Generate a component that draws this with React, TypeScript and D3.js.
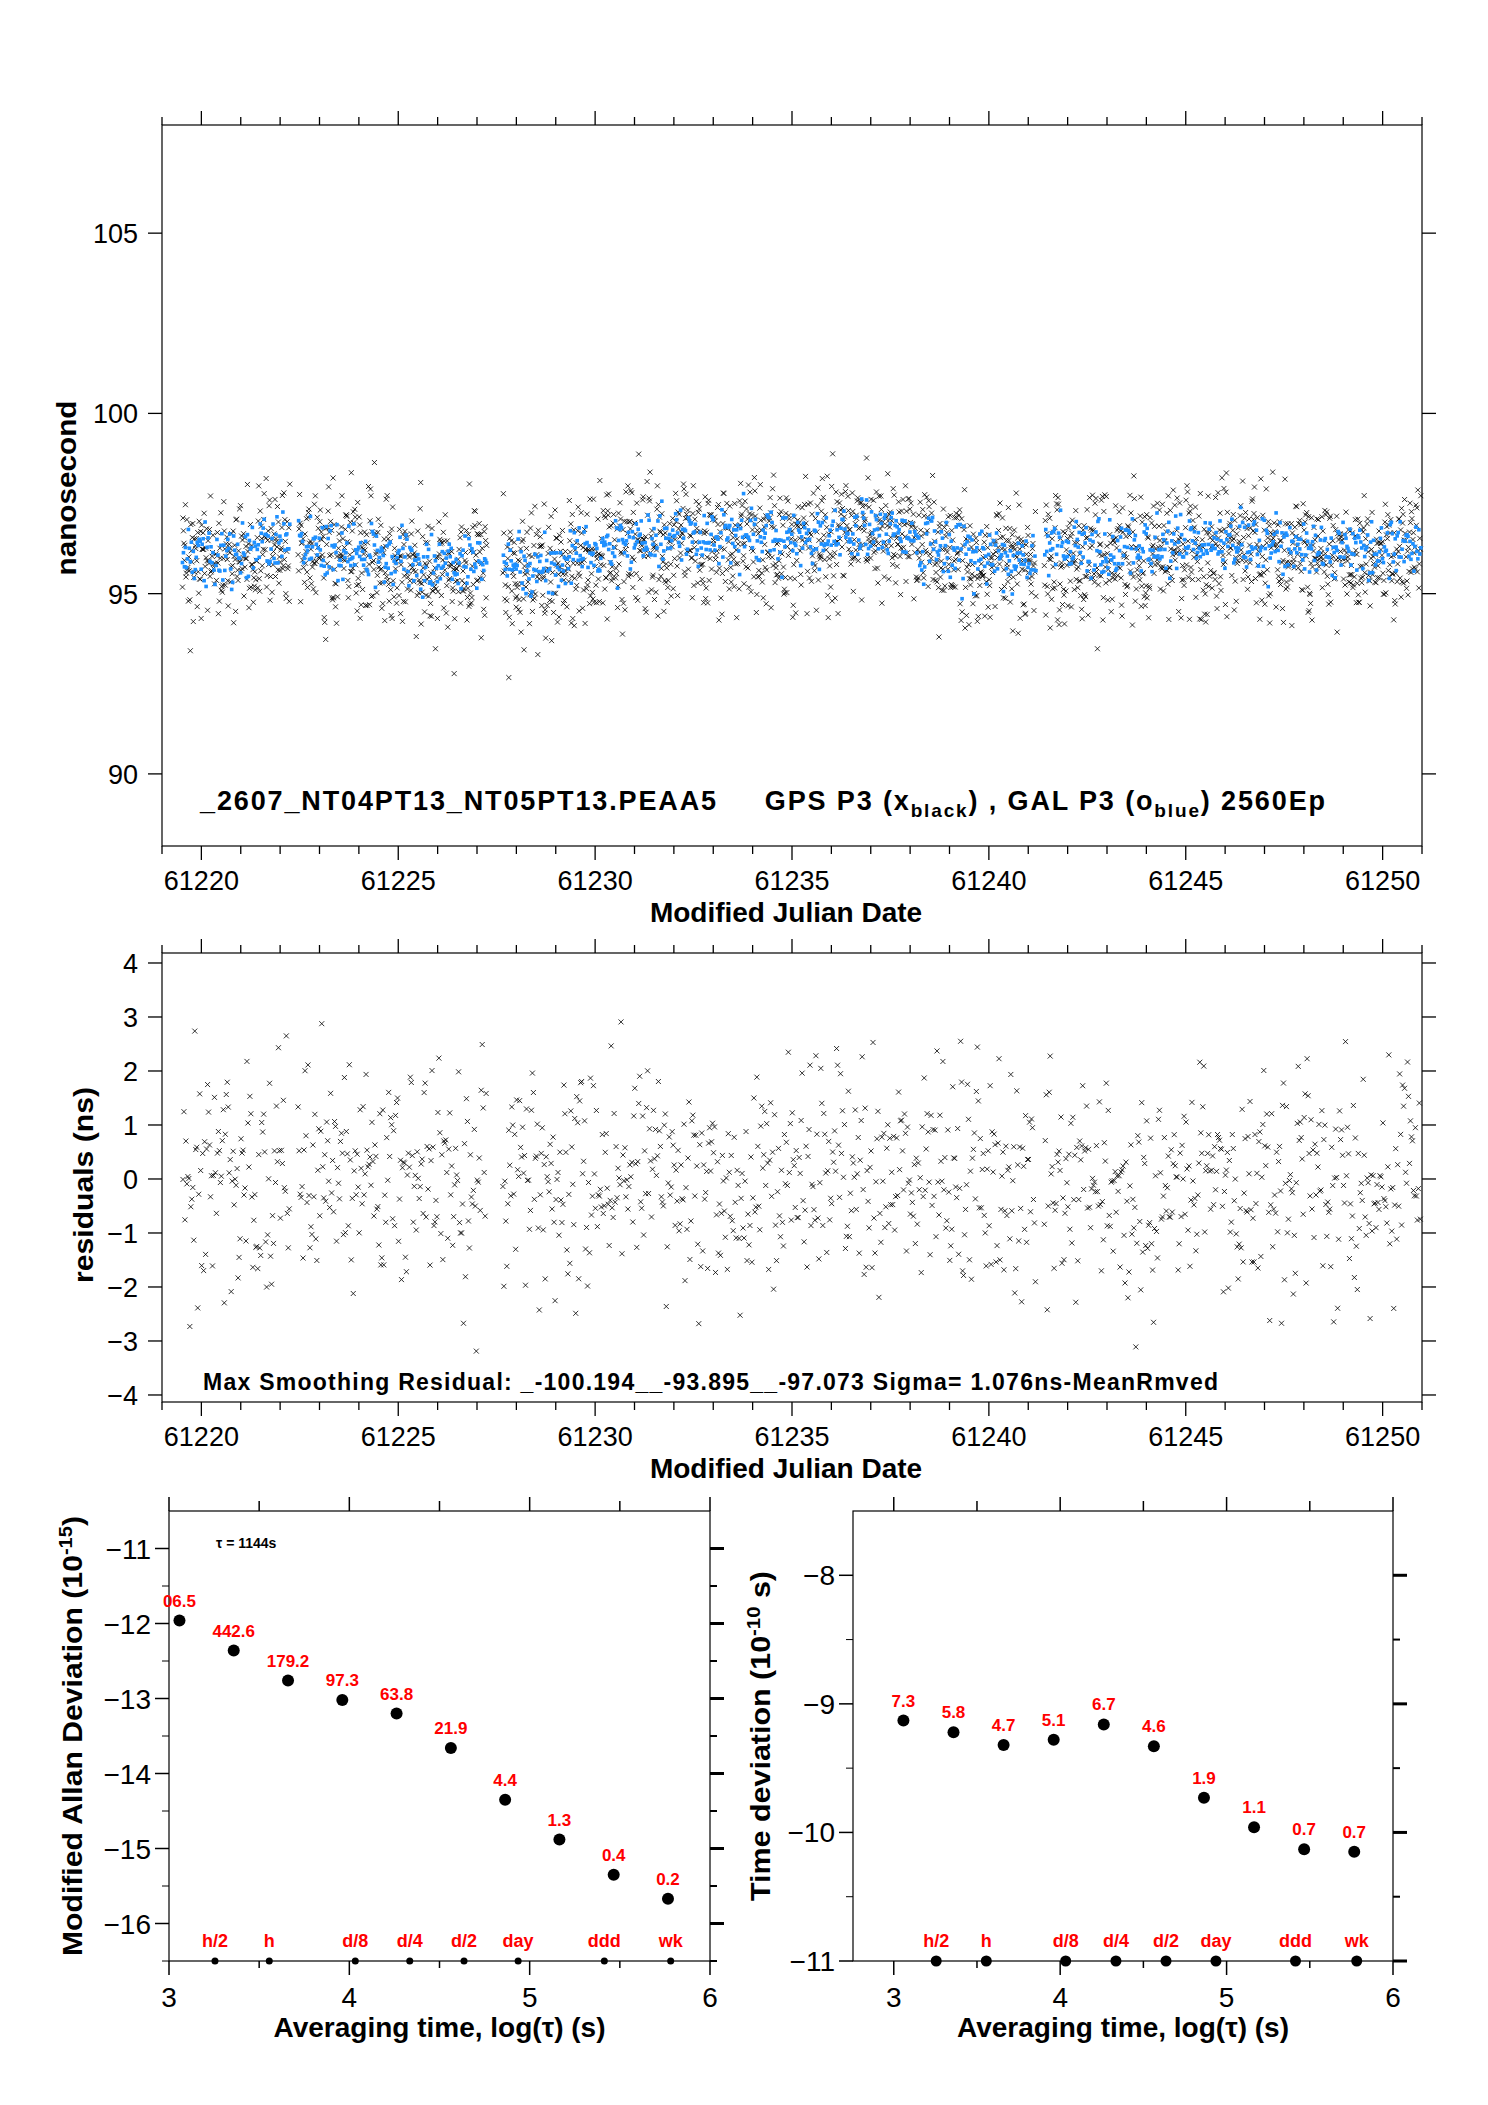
import React from "react";
import * as d3 from "d3";

// --- data ---
const mjdDomain = [61219, 61251];
const gaps = [[61222.25, 61222.45], [61227.25, 61227.65], [61241.2, 61241.4]];
// trend anchors (MJD, mean ns) for blue (GAL) and black (GPS)
const trendMjd = [61219, 61220.5, 61221.5, 61223, 61224.5, 61225.5, 61226.5, 61227.7, 61228.5, 61229.5, 61230.5, 61232, 61233.5, 61235, 61236.5, 61237.5, 61238.5, 61239.5, 61240.5, 61242, 61243.5, 61245, 61246.5, 61248, 61249.5, 61251];
const trendNs = [96.0, 96.0, 96.3, 96.2, 96.0, 95.6, 95.7, 95.8, 95.5, 95.9, 96.3, 96.5, 96.5, 96.4, 96.6, 96.7, 96.2, 96.0, 95.9, 96.2, 96.1, 96.2, 96.3, 96.2, 96.0, 96.3];
const residualSigma = 1.076;

const logTau = [3.058, 3.359, 3.66, 3.961, 4.262, 4.563, 4.864, 5.165, 5.466, 5.767];
const madev = [-11.96, -12.36, -12.76, -13.02, -13.2, -13.66, -14.35, -14.88, -15.35, -15.67];
const madevLabels = ["06.5", "442.6", "179.2", "97.3", "63.8", "21.9", "4.4", "1.3", "0.4", "0.2"];
const tdev = [-9.13, -9.22, -9.32, -9.28, -9.16, -9.33, -9.73, -9.96, -10.13, -10.15];
const tdevLabels = ["7.3", "5.8", "4.7", "5.1", "6.7", "4.6", "1.9", "1.1", "0.7", "0.7"];
const markNames = ["h/2", "h", "d/8", "d/4", "d/2", "day", "ddd", "wk"];
const markLog = [3.255, 3.556, 4.033, 4.335, 4.636, 4.936, 5.414, 5.782];

// deterministic pseudo-noise for the scatter cloud
function hash(i: number) {
  const s = Math.sin(i * 12.9898 + 78.233) * 43758.5453;
  return s - Math.floor(s);
}
function gauss(i: number) {
  return (hash(i) + hash(i + 7777) + hash(i + 15555) + hash(i + 23333) - 2) * 1.7;
}
const trend = d3.scaleLinear().domain(trendMjd).range(trendNs);
const times: number[] = [];
for (let t = 61219.52; t < 61250.98; t += 0.0125) {
  if (!gaps.some(([a, b]) => t > a && t < b)) times.push(t);
}
const gps = times.map((t, i) => ({ t, v: trend(t) + gauss(i) * 0.85 + (hash(i * 3 + 1) > 0.96 ? -1.3 : 0) }));
const gal = times.filter((_, i) => i % 2 === 0).map((t, i) => ({ t, v: trend(t) + 0.1 + gauss(i + 50000) * 0.42 }));
const resid = times.filter((_, i) => i % 2 === 1).map((t, i) => ({ t, v: Math.max(-3.2, Math.min(3.2, gauss(i + 90000) * residualSigma)) }));

const FONT = "'Liberation Sans', Arial, sans-serif";

function Cross({ x, y }: { x: number; y: number }) {
  return <path d={`M${x - 2.5},${y - 2.5}L${x + 2.5},${y + 2.5}M${x - 2.5},${y + 2.5}L${x + 2.5},${y - 2.5}`} stroke="#000" strokeWidth={0.8} />;
}

function TimeFrame({ L, R, T, B, y, yTicks, children }: any) {
  const x = d3.scaleLinear().domain(mjdDomain).range([L, R]);
  const days = d3.range(61219, 61252);
  return (
    <g>
      <rect x={L} y={T} width={R - L} height={B - T} fill="none" stroke="#000" strokeWidth={1.2} />
      {days.map((d) => {
        const maj = d % 5 === 0;
        const len = maj ? 14 : 8;
        const px = x(d);
        return (
          <g key={d}>
            <line x1={px} x2={px} y1={T} y2={T - len} stroke="#000" strokeWidth={1.3} />
            <line x1={px} x2={px} y1={B} y2={B + len} stroke="#000" strokeWidth={1.3} />
          </g>
        );
      })}
      {days.filter((d) => d % 5 === 0).map((d) => (
        <text key={d} x={x(d)} y={B + 44} fontSize={27} textAnchor="middle" fontFamily={FONT}>{d}</text>
      ))}
      <text x={(L + R) / 2 - 6} y={B + 76} fontSize={28} fontWeight="bold" textAnchor="middle" fontFamily={FONT}>Modified Julian Date</text>
      {yTicks.map((v: number) => (
        <g key={v}>
          <line x1={L} x2={L - 14} y1={y(v)} y2={y(v)} stroke="#000" strokeWidth={1.3} />
          <line x1={R} x2={R + 14} y1={y(v)} y2={y(v)} stroke="#000" strokeWidth={1.3} />
          <text x={L - 24} y={y(v) + 10} fontSize={27} textAnchor="end" fontFamily={FONT}>{v < 0 ? "\u2212" + Math.abs(v) : v}</text>
        </g>
      ))}
      {children(x)}
    </g>
  );
}

function DevPlot({ L, R, T, B, xDom, yDom, yTicks, vals, labels, yTitle, titleLen, titleX, big }: any) {
  const x = d3.scaleLinear().domain(xDom).range([L, R]);
  const y = d3.scaleLinear().domain(yDom).range([B, T]);
  const xt = [3, 3.5, 4, 4.5, 5, 5.5, 6];
  const minor = d3.range(Math.ceil(yDom[0] * 2) / 2, yDom[1], 0.5).filter((v) => !Number.isInteger(v));
  return (
    <g fontFamily={FONT}>
      <rect x={L} y={T} width={R - L} height={B - T} fill="none" stroke="#000" strokeWidth={1.2} />
      {xt.map((v) => (
        <g key={v}>
          <line x1={x(v)} x2={x(v)} y1={T} y2={T - (Number.isInteger(v) ? 14 : 10)} stroke="#000" strokeWidth={1.5} />
          <line x1={x(v)} x2={x(v)} y1={B} y2={B + (Number.isInteger(v) ? 14 : 7)} stroke="#000" strokeWidth={1.5} />
          {Number.isInteger(v) && <text x={x(v)} y={B + 46} fontSize={28} textAnchor="middle">{v}</text>}
        </g>
      ))}
      {yTicks.map((v: number) => (
        <g key={v}>
          <line x1={L} x2={L - 14} y1={y(v)} y2={y(v)} stroke="#000" strokeWidth={1.5} />
          <line x1={R} x2={R + 14} y1={y(v)} y2={y(v)} stroke="#000" strokeWidth={3} />
          <text x={L - 18} y={y(v) + 10} fontSize={28} textAnchor="end">{"\u2212" + Math.abs(v)}</text>
        </g>
      ))}
      {minor.map((v: number) => (
        <g key={v}>
          <line x1={L} x2={L - 7} y1={y(v)} y2={y(v)} stroke="#000" />
          <line x1={R} x2={R + 7} y1={y(v)} y2={y(v)} stroke="#000" strokeWidth={2} />
        </g>
      ))}
      <text x={(L + R) / 2} y={B + 76} fontSize={28} fontWeight="bold" textAnchor="middle">Averaging time, log(τ) (s)</text>
      <text transform={`translate(${titleX},${(T + B) / 2}) rotate(-90)`} fontSize={27} fontWeight="bold" textAnchor="middle" textLength={titleLen} lengthAdjust="spacingAndGlyphs">{yTitle}</text>
      {vals.map((v: number, i: number) => (
        <g key={i}>
          <circle cx={x(logTau[i])} cy={y(v)} r={6} fill="#000" />
          <text x={x(logTau[i])} y={y(v) - 14} fontSize={17} fontWeight="bold" fill="#f00" textAnchor="middle">{labels[i]}</text>
        </g>
      ))}
      {markNames.map((m, i) => (
        <g key={m}>
          <circle cx={x(markLog[i])} cy={B} r={big ? 5.5 : 3.5} fill="#000" />
          <text x={x(markLog[i])} y={B - 14} fontSize={18} fontWeight="bold" fill="#f00" textAnchor="middle">{m}</text>
        </g>
      ))}
    </g>
  );
}

export default function App() {
  const yTop = d3.scaleLinear().domain([88, 108]).range([846, 125]);
  const yRes = d3.scaleLinear().domain([-4.13, 4.185]).range([1402, 953]);
  return (
    <svg width={1488} height={2105} style={{ display: "block", margin: "-8px" }} fontFamily={FONT}>
      <rect width={1488} height={2105} fill="#fff" />
      <TimeFrame L={162} R={1422} T={125} B={846} y={yTop} yTicks={[90, 95, 100, 105]}>
        {(x: any) => (
          <g>
            {gps.map((p, i) => <Cross key={i} x={x(p.t)} y={yTop(p.v)} />)}
            {gal.map((p, i) => <rect key={"b" + i} x={x(p.t) - 1.8} y={yTop(p.v) - 1.8} width={3.6} height={3.6} fill="#1e90ff" />)}
            <text x={200} y={810} fontSize={27} fontWeight="bold" textLength={1125} lengthAdjust="spacing">
              _2607_NT04PT13_NT05PT13.PEAA5{"\u00a0\u00a0\u00a0\u00a0\u00a0"}GPS P3 (x<tspan fontSize={19} dy={7}>black</tspan><tspan dy={-7}>) ,  GAL P3 (o</tspan><tspan fontSize={19} dy={7}>blue</tspan><tspan dy={-7}>)  2560Ep</tspan>
            </text>
          </g>
        )}
      </TimeFrame>
      <text transform="translate(76,488) rotate(-90)" fontSize={27} fontWeight="bold" textAnchor="middle" textLength={175} lengthAdjust="spacingAndGlyphs">nanosecond</text>

      <TimeFrame L={162} R={1422} T={953} B={1402} y={yRes} yTicks={[-4, -3, -2, -1, 0, 1, 2, 3, 4]}>
        {(x: any) => (
          <g>
            {resid.map((p, i) => <Cross key={i} x={x(p.t)} y={yRes(p.v)} />)}
            <text x={203} y={1390} fontSize={23} fontWeight="bold" textLength={1015} lengthAdjust="spacing">Max Smoothing Residual: _-100.194__-93.895__-97.073  Sigma= 1.076ns-MeanRmved</text>
          </g>
        )}
      </TimeFrame>
      <text transform="translate(93,1185) rotate(-90)" fontSize={27} fontWeight="bold" textAnchor="middle" textLength={196} lengthAdjust="spacingAndGlyphs">residuals (ns)</text>

      <DevPlot L={169} R={710} T={1511} B={1961} xDom={[3, 6]} yDom={[-16.5, -10.5]} yTicks={[-16, -15, -14, -13, -12, -11]}
        vals={madev} labels={madevLabels} titleX={82} titleLen={440}
        yTitle={<>Modified Allan Deviation (10<tspan fontSize={18} dy={-10}>-15</tspan><tspan dy={10}>)</tspan></>} />
      <text x={216} y={1548} fontSize={14} fontWeight="bold" fontFamily={FONT}>τ = 1144s</text>
      <DevPlot L={853} R={1393} T={1511} B={1961} xDom={[2.755, 6]} yDom={[-11, -7.5]} yTicks={[-11, -10, -9, -8]}
        vals={tdev} labels={tdevLabels} big titleX={770} titleLen={330}
        yTitle={<>Time deviation (10<tspan fontSize={18} dy={-10}>-10</tspan><tspan dy={10}> s)</tspan></>} />
    </svg>
  );
}
